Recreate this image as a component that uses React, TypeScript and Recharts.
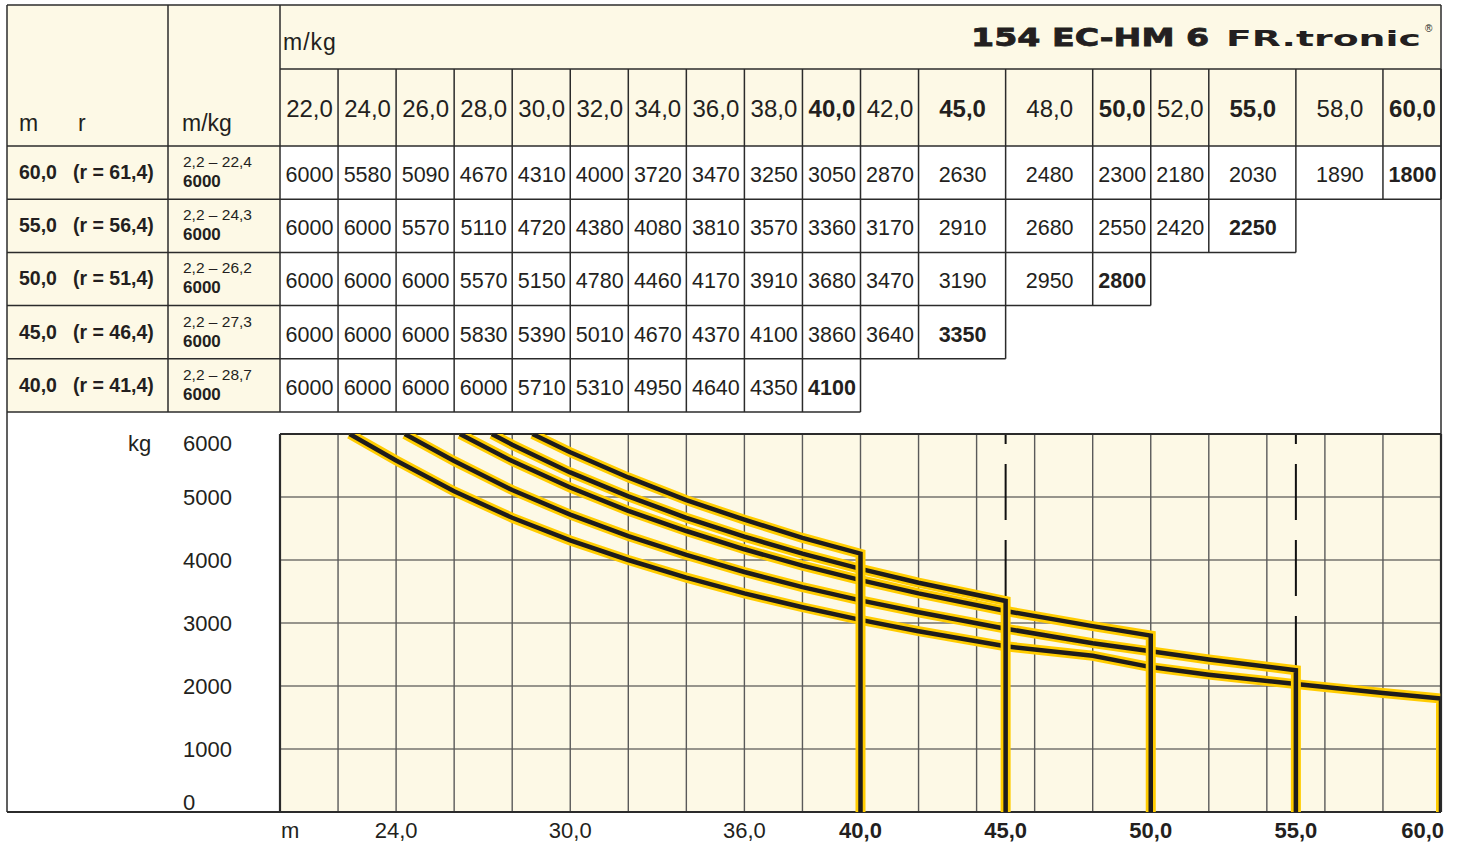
import React from 'react';
import { LineChart, Line, XAxis, YAxis, CartesianGrid } from 'recharts';

// ---------- data ----------
const jibLengths = [60, 55, 50, 45, 40];
const jibLabels = ['60,0', '55,0', '50,0', '45,0', '40,0'];
const hookRadiusLabels = ['(r = 61,4)', '(r = 56,4)', '(r = 51,4)', '(r = 46,4)', '(r = 41,4)'];
const maxLoadRangeLabels = ['2,2 – 22,4', '2,2 – 24,3', '2,2 – 26,2', '2,2 – 27,3', '2,2 – 28,7'];
const maxLoadRadius = [22.4, 24.3, 26.2, 27.3, 28.7];
const maxLoad = 6000;
const maxLoadLabel = '6000';

const radiusColumns = [22, 24, 26, 28, 30, 32, 34, 36, 38, 40, 42, 45, 48, 50, 52, 55, 58, 60];
const radiusLabels = ['22,0', '24,0', '26,0', '28,0', '30,0', '32,0', '34,0', '36,0', '38,0', '40,0', '42,0', '45,0', '48,0', '50,0', '52,0', '55,0', '58,0', '60,0'];
const boldRadius = [40, 45, 50, 55, 60];

const loads60 = [6000, 5580, 5090, 4670, 4310, 4000, 3720, 3470, 3250, 3050, 2870, 2630, 2480, 2300, 2180, 2030, 1890, 1800];
const loads55 = [6000, 6000, 5570, 5110, 4720, 4380, 4080, 3810, 3570, 3360, 3170, 2910, 2680, 2550, 2420, 2250];
const loads50 = [6000, 6000, 6000, 5570, 5150, 4780, 4460, 4170, 3910, 3680, 3470, 3190, 2950, 2800];
const loads45 = [6000, 6000, 6000, 5830, 5390, 5010, 4670, 4370, 4100, 3860, 3640, 3350];
const loads40 = [6000, 6000, 6000, 6000, 5710, 5310, 4950, 4640, 4350, 4100];
const loadRows = [loads60, loads55, loads50, loads45, loads40];

const yTicks = [0, 1000, 2000, 3000, 4000, 5000, 6000];
const xGridValues = [22, 24, 26, 28, 30, 32, 34, 36, 38, 40, 42, 44, 46, 48, 50, 52, 54, 56, 58];
const xDashedValues = [45, 55];
const xBorderValues = [20, 60];
const yBorderValues = [0, 6000];
const xLabelTicks = [20, 24, 30, 36, 40, 45, 50, 55, 60];
const xLabelTexts = ['m', '24,0', '30,0', '36,0', '40,0', '45,0', '50,0', '55,0', '60,0'];
const xDomain = [20, 60];
const yDomain = [0, 6000];

// curves built from the table
const curves = jibLengths.map((L, i) => {
  const pts: { x: number; y: number }[] = [{ x: maxLoadRadius[i], y: maxLoad }];
  loadRows[i].forEach((v, j) => {
    if (radiusColumns[j] > maxLoadRadius[i]) pts.push({ x: radiusColumns[j], y: v });
  });
  pts.push({ x: L, y: 0 });
  return pts;
});

// ---------- style ----------
const FONT = '"Liberation Sans", Arial, Helvetica, sans-serif';
const INK = '#231f20';
const LINE = '#2b2b2b';
const CREAM = '#fdf9e6';
const YELLOW = '#ffcc00';

// layout
const W = 1457;
const H = 843;
const PLOT_LEFT = 280;
const PLOT_RIGHT = 1441;
const FRAME_LEFT = 7;
const FRAME_TOP = 5;
const COL1 = 168;
const H1 = 69;
const H2 = 146;
const ROW_H = 53.2;
const PLOT_BOTTOM_PAGE = 812;
const CHART_TOP = 420;
const CHART_H = H - CHART_TOP;
const X_AXIS_H = 31;
const PLOT_BOTTOM_SVG = CHART_H - X_AXIS_H;

// table columns share the chart's horizontal scale
const px = (v: number) => PLOT_LEFT + ((v - xDomain[0]) * (PLOT_RIGHT - PLOT_LEFT)) / (xDomain[1] - xDomain[0]);

const XTick = (props: any) => {
  const { x, payload } = props;
  const v = payload.value;
  const idx = xLabelTicks.indexOf(v);
  const label = idx >= 0 ? xLabelTexts[idx] : '';
  let anchor: 'start' | 'middle' | 'end' = 'middle';
  let dx = 0;
  if (v === xDomain[0]) { anchor = 'start'; dx = 1; }
  if (v === xDomain[1]) { anchor = 'end'; dx = 3; }
  return (
    <text x={x + dx} y={PLOT_BOTTOM_SVG + 26} textAnchor={anchor} fontFamily={FONT} fontSize={22}
      fontWeight={boldRadius.includes(v) ? 'bold' : 'normal'} fill={INK}>
      {label}
    </text>
  );
};

const YTick = (props: any) => {
  const { y, payload } = props;
  const v = payload.value;
  const dy = v === yDomain[1] ? 17 : v === yDomain[0] ? -2 : 8;
  return (
    <g>
      {v === yDomain[1] && (
        <text x={PLOT_LEFT - 152} y={y + dy} fontFamily={FONT} fontSize={22} fill={INK}>kg</text>
      )}
      <text x={PLOT_LEFT - 97} y={y + dy} fontFamily={FONT} fontSize={22} fill={INK}>{String(v)}</text>
    </g>
  );
};

const Table = () => {
  const rowTop = (i: number) => H2 + i * ROW_H;
  const lines: React.ReactNode[] = [];
  const sw = 1.5;
  const L = (k: string, x1: number, y1: number, x2: number, y2: number, w = sw) =>
    lines.push(<line key={k} x1={x1} y1={y1} x2={x2} y2={y2} stroke={LINE} strokeWidth={w} />);

  // frame
  L('top', FRAME_LEFT, FRAME_TOP, PLOT_RIGHT, FRAME_TOP);
  L('left', FRAME_LEFT, FRAME_TOP, FRAME_LEFT, PLOT_BOTTOM_PAGE);
  L('right', PLOT_RIGHT, FRAME_TOP, PLOT_RIGHT, PLOT_BOTTOM_PAGE);
  L('bottom', FRAME_LEFT, PLOT_BOTTOM_PAGE, PLOT_LEFT, PLOT_BOTTOM_PAGE, 2);
  L('h1', PLOT_LEFT, H1, PLOT_RIGHT, H1);
  L('h2', FRAME_LEFT, H2, PLOT_RIGHT, H2);
  const tableBottom = rowTop(jibLengths.length);
  L('c1', COL1, FRAME_TOP, COL1, tableBottom);
  L('c2', PLOT_LEFT, FRAME_TOP, PLOT_LEFT, tableBottom);
  jibLengths.forEach((jl, i) => {
    L('rb' + i, FRAME_LEFT, rowTop(i + 1), px(jl), rowTop(i + 1));
  });
  radiusColumns.forEach((c, j) => {
    let last = -1;
    jibLengths.forEach((jl, i) => { if (jl >= c) last = i; });
    L('cv' + j, px(c), H1, px(c), last >= 0 ? rowTop(last + 1) : H2);
  });

  const texts: React.ReactNode[] = [];
  radiusColumns.forEach((c, j) => {
    const l = px(j === 0 ? xDomain[0] : radiusColumns[j - 1]);
    const r = px(c);
    texts.push(
      <text key={'hv' + j} x={(l + r) / 2 + 0.5} y={117} textAnchor="middle" fontSize={24}
        fontWeight={boldRadius.includes(c) ? 'bold' : 'normal'}>{radiusLabels[j]}</text>
    );
  });
  jibLengths.forEach((jl, i) => {
    const t = rowTop(i);
    texts.push(<text key={'jl' + i} x={19} y={t + 33} fontSize={19.5} fontWeight="bold">{jibLabels[i]}</text>);
    texts.push(<text key={'hr' + i} x={73} y={t + 33} fontSize={19.5} fontWeight="bold">{hookRadiusLabels[i]}</text>);
    texts.push(<text key={'mr' + i} x={183} y={t + 21} fontSize={15.5}>{maxLoadRangeLabels[i]}</text>);
    texts.push(<text key={'ml' + i} x={183} y={t + 41} fontSize={17} fontWeight="bold">{maxLoadLabel}</text>);
    const row = loadRows[i];
    row.forEach((v, j) => {
      const l = px(j === 0 ? xDomain[0] : radiusColumns[j - 1]);
      const r = px(radiusColumns[j]);
      texts.push(
        <text key={'d' + i + '_' + j} x={(l + r) / 2 + 0.5} y={t + 36} textAnchor="middle" fontSize={21.5}
          fontWeight={j === row.length - 1 ? 'bold' : 'normal'}>{String(v)}</text>
      );
    });
  });

  return (
    <svg width={W} height={H} style={{ position: 'absolute', left: 0, top: 0, pointerEvents: 'none' }}>
      <rect x={FRAME_LEFT} y={FRAME_TOP} width={PLOT_LEFT - FRAME_LEFT} height={tableBottom - FRAME_TOP} fill={CREAM} />
      <rect x={PLOT_LEFT} y={FRAME_TOP} width={PLOT_RIGHT - PLOT_LEFT} height={H2 - FRAME_TOP} fill={CREAM} />
      <g fontFamily={FONT} fill={INK}>
        <text x={283} y={50} fontSize={23} letterSpacing={1}>m/kg</text>
        <text x={19} y={131} fontSize={23}>m</text>
        <text x={78} y={131} fontSize={23}>r</text>
        <text x={182} y={131} fontSize={23}>m/kg</text>
        {texts}
      </g>
      <g fill={INK}>
        <text transform="translate(971 46) scale(1.33 1)" fontFamily='"DejaVu Sans", sans-serif'
          fontWeight="bold" fontSize={25} stroke={INK} strokeWidth={0.8}>154 EC-HM 6</text>
        <text transform="translate(1226 46) scale(1.8 1)" fontFamily='"DejaVu Sans", sans-serif'
          fontWeight="bold" fontSize={21}>FR.tronic</text>
        <text x={1425} y={32} fontFamily={FONT} fontSize={10}>®</text>
      </g>
      {lines}
    </svg>
  );
};

export default function App() {
  return (
    <div style={{ position: 'absolute', left: 0, top: 0, width: W, height: H, background: '#ffffff', fontFamily: FONT }}>
      <div style={{ position: 'absolute', left: 0, top: CHART_TOP }}>
        <LineChart width={W} height={CHART_H} margin={{ top: 14, right: W - PLOT_RIGHT, bottom: 0, left: 0 }}>
          <CartesianGrid fill={CREAM} vertical={false} stroke="#333" strokeWidth={1.2} />
          <CartesianGrid horizontal={false} verticalValues={xGridValues} stroke="#5a5a5a" strokeWidth={1.4} />
          <CartesianGrid horizontal={false} verticalValues={xDashedValues} stroke="#111" strokeWidth={2} strokeDasharray="56 20" strokeDashoffset={46} />
          <CartesianGrid horizontalValues={yBorderValues} verticalValues={xBorderValues} stroke={LINE} strokeWidth={2.2} />
          <XAxis dataKey="x" type="number" domain={xDomain} ticks={xLabelTicks} interval={0} tick={<XTick />}
            axisLine={false} tickLine={false} height={X_AXIS_H} allowDataOverflow />
          <YAxis type="number" domain={yDomain} ticks={yTicks} interval={0} tick={<YTick />}
            axisLine={false} tickLine={false} width={PLOT_LEFT} allowDataOverflow />
          {curves.map((pts, i) => [
            <Line key={'halo' + i} data={pts} dataKey="y" type="linear" stroke={YELLOW} strokeWidth={10}
              dot={false} activeDot={false} isAnimationActive={false} name={'halo' + jibLengths[i]} />,
            <Line key={'core' + i} data={pts} dataKey="y" type="linear" stroke="#1e1c1c" strokeWidth={4.5}
              dot={false} activeDot={false} isAnimationActive={false} name={'jib' + jibLengths[i]} />,
          ])}
        </LineChart>
      </div>
      <Table />
    </div>
  );
}
